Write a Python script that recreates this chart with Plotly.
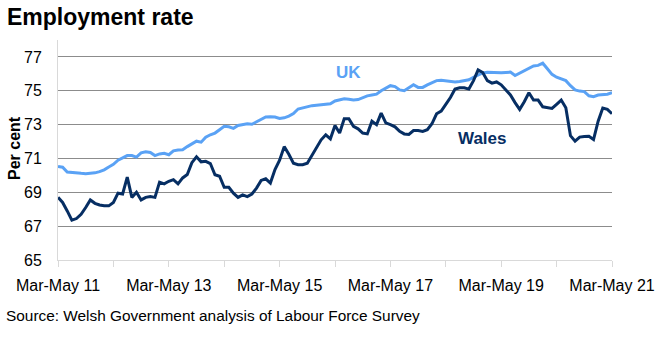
import plotly.graph_objects as go

# Rolling quarter labels, Mar-May 2011 .. Mar-May 2021
quarters = ["Mar-May", "Apr-Jun", "May-Jul", "Jun-Aug", "Jul-Sep", "Aug-Oct",
            "Sep-Nov", "Oct-Dec", "Nov-Jan", "Dec-Feb", "Jan-Mar", "Feb-Apr"]
periods = []
for k in range(121):
    q = quarters[k % 12]
    yr = 11 + k // 12 + (1 if (k % 12) >= 8 else 0)
    periods.append(f"{q} {yr:02d}")

wales = [68.7, 68.4, 67.9, 67.35, 67.45, 67.7, 68.1, 68.55, 68.35, 68.25,
         68.2, 68.2, 68.4, 68.95, 68.9, 69.9, 68.7, 69.0, 68.55, 68.7,
         68.75, 68.7, 69.6, 69.5, 69.65, 69.75, 69.5, 69.85, 70.05, 70.75,
         71.1, 70.8, 70.83, 70.7, 70.04, 69.95, 69.3, 69.3, 68.95, 68.7,
         68.85, 68.75, 68.9, 69.25, 69.7, 69.8, 69.55, 70.35, 70.9, 71.7,
         71.25, 70.72, 70.63, 70.63, 70.72, 71.2, 71.6, 72.1, 72.4, 72.16,
         72.95, 72.5, 73.35, 73.35, 72.9, 72.75, 72.5, 72.45, 73.2, 73.0,
         73.68, 73.1, 73.0, 72.87, 72.6, 72.45, 72.42, 72.65, 72.65, 72.6,
         72.7, 73.05, 73.64, 73.8, 74.2, 74.6, 75.1, 75.18, 75.18, 75.1,
         75.6, 76.23, 76.08, 75.6, 75.45, 75.52, 75.35, 75.05, 74.75, 74.3,
         73.9, 74.35, 74.88, 74.45, 74.45, 74.05, 74.0, 73.96, 74.2, 74.45,
         74.0, 72.35, 72.02, 72.26, 72.3, 72.31, 72.12, 73.2, 73.98, 73.9,
         73.64]

uk = [70.53, 70.48, 70.2, 70.16, 70.14, 70.12, 70.1, 70.12, 70.15, 70.22,
      70.33, 70.5, 70.65, 70.9, 71.05, 71.17, 71.17, 71.08, 71.33, 71.4,
      71.35, 71.17, 71.27, 71.3, 71.22, 71.45, 71.5, 71.52, 71.7, 71.88,
      72.02, 71.96, 72.25, 72.4, 72.5, 72.7, 72.9, 72.87, 72.78, 72.95,
      73.0, 73.05, 73.02, 73.15, 73.3, 73.45, 73.46, 73.45, 73.36, 73.4,
      73.5, 73.65, 73.92, 74.0, 74.08, 74.12, 74.15, 74.17, 74.2, 74.23,
      74.4, 74.45, 74.53, 74.5, 74.45, 74.48, 74.6, 74.7, 74.75, 74.8,
      75.0, 75.15, 75.3, 75.25, 75.05, 75.0, 75.2, 75.36, 75.2, 75.2,
      75.35, 75.5, 75.6, 75.62, 75.6, 75.55, 75.52, 75.55, 75.6, 75.65,
      75.8, 75.92, 76.05, 76.1, 76.08, 76.06, 76.06, 76.08, 76.1, 75.9,
      76.05, 76.2, 76.35, 76.47, 76.5, 76.63, 76.3, 75.97, 75.8, 75.7,
      75.6, 75.3, 75.05, 74.98, 74.95, 74.7, 74.65, 74.75, 74.78, 74.8,
      74.88]

y_ticks = [65, 67, 69, 71, 73, 75, 77]

UK_COLOR = "#5AA2F5"
WALES_COLOR = "#062E63"
FONT = "Liberation Sans, Arial, sans-serif"

tick_vals = periods[::12]
tick_text = [p if i % 2 == 0 else "" for i, p in enumerate(tick_vals)]

fig = go.Figure()
fig.add_trace(go.Scatter(x=periods, y=uk, mode="lines", name="UK",
                         line=dict(color=UK_COLOR, width=3)))
fig.add_trace(go.Scatter(x=periods, y=wales, mode="lines", name="Wales",
                         line=dict(color=WALES_COLOR, width=3)))

PW, PH = 554, 220  # plot area in px

fig.update_layout(
    width=659, height=339,
    margin=dict(l=58, r=47, t=40, b=79, autoexpand=False),
    paper_bgcolor="white", plot_bgcolor="white",
    showlegend=False,
    font=dict(family=FONT, color="black", size=16),
    xaxis=dict(
        type="category", range=[0, 120], automargin=False,
        tickmode="array", tickvals=tick_vals, ticktext=tick_text,
        showgrid=False, showline=True, linecolor="#D9D9D9", linewidth=1,
        ticks="outside", ticklen=6, tickcolor="#D9D9D9", tickwidth=1,
        ticklabelstandoff=5, tickangle=0,
        tickfont=dict(size=16, family=FONT),
        zeroline=False,
    ),
    yaxis=dict(
        range=[65, 78], tickvals=y_ticks, automargin=False,
        showgrid=True, gridcolor="#8C8C8C", gridwidth=1,
        showline=True, linecolor="#D9D9D9", linewidth=1,
        ticks="outside", ticklen=12, tickcolor="rgba(0,0,0,0)",
        tickfont=dict(size=16, family=FONT),
        zeroline=False,
    ),
    annotations=[
        dict(text="<b>Employment rate</b>", xref="paper", yref="paper",
             x=-53 / PW, y=1 + 23 / PH, xanchor="left", yanchor="middle",
             showarrow=False, font=dict(size=23, family=FONT, color="black")),
        dict(text="<b>Per cent</b>", xref="paper", yref="paper",
             x=-44 / PW, y=(260 - 148) / PH, xanchor="center", yanchor="middle",
             textangle=-90, showarrow=False,
             font=dict(size=16, family=FONT, color="black")),
        dict(text="Source: Welsh Government analysis of Labour Force Survey",
             xref="paper", yref="paper", x=-54 / PW, y=-56 / PH,
             xanchor="left", yanchor="middle", showarrow=False,
             font=dict(size=15.4, family=FONT, color="black")),
        dict(text="<b>UK</b>", xref="x", yref="y", x=periods[63], y=76.1,
             xanchor="center", yanchor="middle", showarrow=False,
             font=dict(size=17, family=FONT, color=UK_COLOR)),
        dict(text="<b>Wales</b>", xref="x", yref="y", x=periods[92], y=72.2,
             xanchor="center", yanchor="middle", showarrow=False,
             font=dict(size=17, family=FONT, color=WALES_COLOR)),
    ],
)

fig.write_html("out.html")
